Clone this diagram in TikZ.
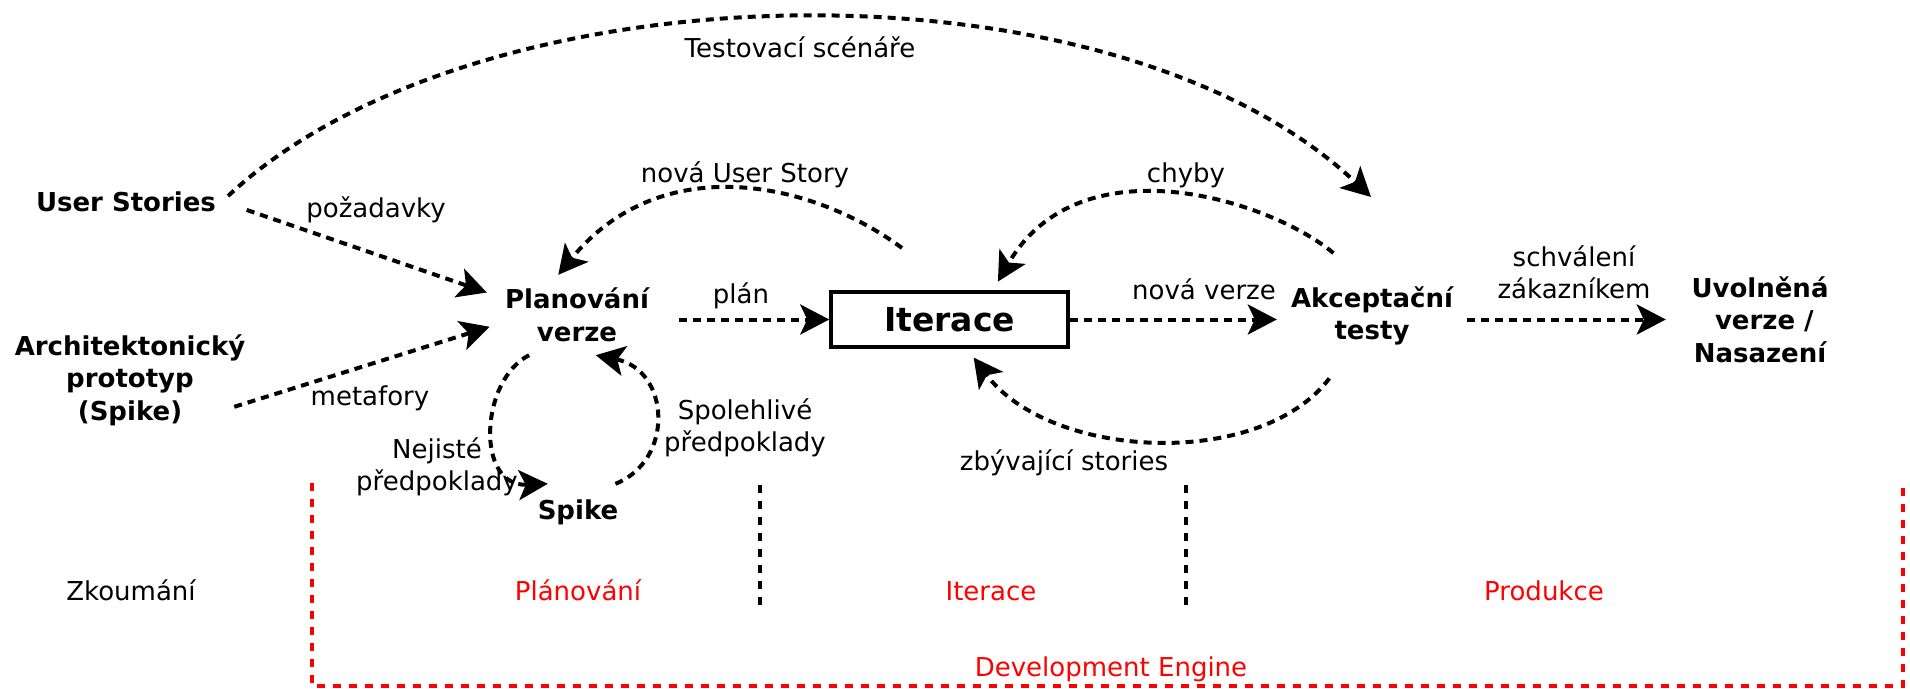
\documentclass[tikz,border=0pt]{standalone}
\usepackage{fontspec}
\setmainfont{DejaVu Sans}
\usetikzlibrary{arrows.meta}
\begin{document}
\begin{tikzpicture}[x=1pt,y=-1pt,
  lbl/.style={font=\fontsize{26}{31.5}\selectfont, align=center, inner sep=0pt},
  bnode/.style={font=\bfseries\fontsize{26}{32.5}\selectfont, align=center},
  arr/.style={line width=4pt, dash pattern=on 8pt off 6pt, -{Stealth[length=29pt,width=30pt,inset=7pt]}},
  sepline/.style={line width=3.5pt, dash pattern=on 8pt off 8pt},
  redframe/.style={red, line width=3.5pt, dash pattern=on 8pt off 8pt},
  redlbl/.style={lbl, text=red}]
\useasboundingbox (0,0) rectangle (1910,688);

% main nodes
\node[bnode, inner sep=6pt] (us) at (126,201.5) {User Stories};
\node[bnode, inner sep=6pt] (ap) at (130,380) {Architektonický\\prototyp\\(Spike)};
\node[bnode, inner sep=0pt, minimum width=180pt, minimum height=80pt] (pv) at (577,315) {Planování\\verze};
\node[bnode, inner sep=0pt, minimum width=150pt, minimum height=56pt] (sp) at (578,512) {Spike};
\node[draw, line width=3.5pt, minimum width=237pt, minimum height=55pt, inner sep=0pt,
      font=\bfseries\fontsize{33}{38}\selectfont] (it) at (949.5,319.5) {Iterace};
\node[bnode, inner sep=0pt, minimum width=190pt, minimum height=110pt] (at) at (1372,316) {Akceptační\\testy};
\node[bnode, inner sep=0pt, minimum width=188pt] (uv) at (1760,319.5) {Uvolněná\\\hspace*{8.7pt}verze /\\Nasazení};

\coordinate (ts) at (1371,197);
\coordinate (nus) at (902,248);

% labels
\node[lbl, anchor=base] (lts) at (800,57) {Testovací scénáře};
\node[lbl, anchor=base] (lnus) at (745,182) {nová User Story};
\node[lbl, anchor=base] (lch) at (1186,182) {chyby};
\node[lbl, anchor=base] (lpo) at (376,217) {požadavky};
\node[lbl, anchor=base] (lpl) at (741,303) {plán};
\node[lbl, anchor=base] (lnv) at (1204,299) {nová verze};
\node[lbl] (lsch) at (1574,272.5) {schválení\\zákazníkem};
\node[lbl, anchor=base] (lme) at (370,405) {metafory};
\node[lbl] (lnej) at (437,467) {Nejisté\\předpoklady};
\node[lbl] (lspo) at (745,428) {Spolehlivé\\předpoklady};
\node[lbl, anchor=base] (lzb) at (1064,470) {zbývající stories};

\node[lbl, anchor=base] (zk) at (131,600) {Zkoumání};
\node[redlbl, anchor=base] (pla) at (578,600) {Plánování};
\node[redlbl, anchor=base] (ite) at (991,600) {Iterace};
\node[redlbl, anchor=base] (pro) at (1544,600) {Produkce};
\node[redlbl, anchor=base] (dev) at (1111,676) {Development Engine};

% phase separators and frame
\draw[sepline] (760,485) -- (760,607);
\draw[sepline] (1186,485) -- (1186,607);
\draw[redframe] (312,483) -- (312,686) -- (1903,686) -- (1903,483);

% connectors
\draw[arr, shorten <=8pt] (us.east) .. controls (475,-35) and (1110,-50) .. (ts);
\draw[arr, shorten <=26pt] (us.east) -- (pv.166);
\draw[arr, shorten <=-18pt, shorten >=-3pt] (ap.-10) -- (pv.188);
\draw[arr, shorten <=12pt] (pv.east |- it.west) -- (it.west);
\draw[arr] (it.east) -- (it.east -| at.west);
\draw[arr] (at.east |- uv.west) -- (uv.west);
\draw[arr] (nus) .. controls (810,180) and (660,150) .. (pv.115);
\draw[arr, shorten <=12pt, shorten >=10pt] (at.118) .. controls (1270,200) and (1080,140) .. (it.34);
\draw[arr, shorten <=9pt, shorten >=11pt] (at.236) .. controls (1260,470) and (1050,460) .. (it.-59);
\draw[arr] (pv.220) .. controls (480,380) and (475,487) .. (sp.137);
\draw[arr] (sp.37) .. controls (675,460) and (670,370) .. (pv.295);
\end{tikzpicture}
\end{document}
